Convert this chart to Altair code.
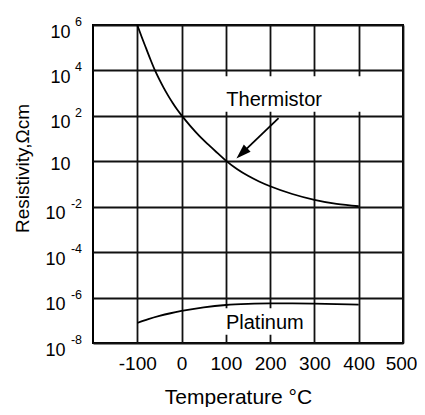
import altair as alt
import pandas as pd

# ---- data ----
temps_th = [-100, -90, -80, -70, -60, -50, -40, -30, -20, -10, 0, 20, 40, 60, 80, 100,
            125, 150, 175, 200, 250, 300, 350, 400]
rho_th = [1e6, 2.95e5, 9.3e4, 2.95e4, 1e4, 3.9e3, 1.66e3, 7.6e2, 3.7e2, 1.9e2, 1.05e2,
          35.5, 13.2, 5.5, 2.4, 1.07, 0.457, 0.229, 0.129, 0.0794, 0.0363, 0.020, 0.0132, 0.0105]

temps_pt = [-100, -75, -50, -25, 0, 50, 100, 150, 200, 250, 300, 350, 400]
rho_pt = [7.6e-8, 1.12e-7, 1.55e-7, 2.04e-7, 2.57e-7, 3.7e-7, 4.7e-7, 5.25e-7, 5.5e-7,
          5.5e-7, 5.37e-7, 5.13e-7, 4.9e-7]

x_ticks = [-100, 0, 100, 200, 300, 400, 500]
y_ticks = [1e-8, 1e-6, 1e-4, 1e-2, 1, 1e2, 1e4, 1e6]
exp_vals = [1e6, 1e4, 1e2, 1e-2, 1e-4, 1e-6, 1e-8]
exp_text = ["6", "4", "2", "-2", "-4", "-6", "-8"]

label_names = ["Thermistor", "Platinum"]
label_T = [209, 188]
label_rho = [2.7e2, 4e-8]
box_T = [89, 89]
box_T2 = [450, 287]
box_rho = [1.5e2, 3.4e-7]
box_rho2 = [5.6e3, 2.3e-8]

arrow_T = [219]
arrow_rho = [79]
arrow_T2 = [136]
arrow_rho2 = [2.24]

FONT = "Liberation Sans"

df_th = pd.DataFrame({"T": temps_th, "rho": rho_th})
df_pt = pd.DataFrame({"T": temps_pt, "rho": rho_pt})
df_exp = pd.DataFrame({"T": [0] * len(exp_vals), "rho": exp_vals, "txt": exp_text})
df_lab = pd.DataFrame({"T": label_T, "rho": label_rho, "txt": label_names})
df_box = pd.DataFrame({"T": box_T, "T2": box_T2, "rho": box_rho, "rho2": box_rho2})
df_arrow = pd.DataFrame({"T": arrow_T, "rho": arrow_rho, "T2": arrow_T2, "rho2": arrow_rho2})

xscale = alt.Scale(domain=[-200, 500], nice=False, zero=False)
yscale = alt.Scale(type="log", domain=[1e-8, 1e6], nice=False)

xaxis = alt.Axis(
    values=x_ticks, labelExpr="datum.value + ''", title="Temperature °C",
    labelFontSize=19, labelFont=FONT,
    labelColor="black", labelBaseline="alphabetic", labelPadding=26, ticks=False,
    labelOffset={"condition": {"test": "datum.value > 450", "value": -2}, "value": 0},
    tickSize=0, domain=False, grid=True, gridColor="#111111", gridWidth=1.8,
    labelFlush=False, labelOverlap=False,
    titleFont=FONT, titleFontSize=21, titleFontWeight="normal", titleColor="black",
    titleX=145, titleY=60, titleAlign="center", titleBaseline="alphabetic",
)
yaxis = alt.Axis(
    values=y_ticks, labelExpr="'10'", title="Resistivity,Ωcm",
    labelFontSize=18, labelFont=FONT, labelColor="black", labelAlign="right",
    labelBaseline="alphabetic",
    labelPadding={"condition": {"test": "datum.value < 0.5", "value": 28}, "value": 23},
    labelOffset={"condition": {"test": "datum.value > 0.5 && datum.value < 2", "value": 8}, "value": 12},
    ticks=False, tickSize=0, domain=False, grid=True, gridColor="#111111", gridWidth=1.8,
    labelOverlap=False,
    titleFont=FONT, titleFontSize=19, titleFontWeight="normal", titleColor="black",
    titleX=-71, titleY=143, titleAlign="center", titleBaseline="middle", titleAngle=270,
)

X = alt.X("T:Q", scale=xscale, axis=xaxis)
Y = alt.Y("rho:Q", scale=yscale, axis=yaxis)

boxes = alt.Chart(df_box).mark_rect(color="white").encode(
    x=X, x2="T2:Q", y=Y, y2="rho2:Q"
)
th = alt.Chart(df_th).mark_line(color="black", strokeWidth=1.8, interpolate="monotone").encode(x=X, y=Y)
pt = alt.Chart(df_pt).mark_line(color="black", strokeWidth=1.8, interpolate="monotone").encode(x=X, y=Y)
labels = alt.Chart(df_lab).mark_text(
    font=FONT, fontSize=20, color="black", align="center", baseline="alphabetic"
).encode(x=X, y=Y, text="txt:N")
shaft = alt.Chart(df_arrow).mark_rule(color="black", strokeWidth=1.8).encode(
    x=X, y=Y, x2="T2:Q", y2="rho2:Q"
)
head = alt.Chart(df_arrow).mark_point(
    shape="M0,-1L0.65,1L-0.65,1Z", size=225, filled=True, color="black",
    opacity=1, angle=226,
).encode(x=alt.X("T2:Q", scale=xscale, axis=xaxis), y=alt.Y("rho2:Q", scale=yscale, axis=yaxis))
exps = alt.Chart(df_exp).mark_text(
    font=FONT, fontSize=12.5, color="black", align="right", baseline="middle", dy=-3
).encode(x=alt.value(-11), y=Y, text="txt:N")

chart = alt.layer(boxes, th, pt, labels, shaft, head, exps).properties(
    width=310, height=318,
    autosize=alt.AutoSizeParams(type="none"),
    padding={"left": 85, "top": 17, "right": 14, "bottom": 64},
    background="white",
).configure_view(stroke="black", strokeWidth=2)

chart.save("out.html", embed_options={"renderer": "svg", "actions": False})
